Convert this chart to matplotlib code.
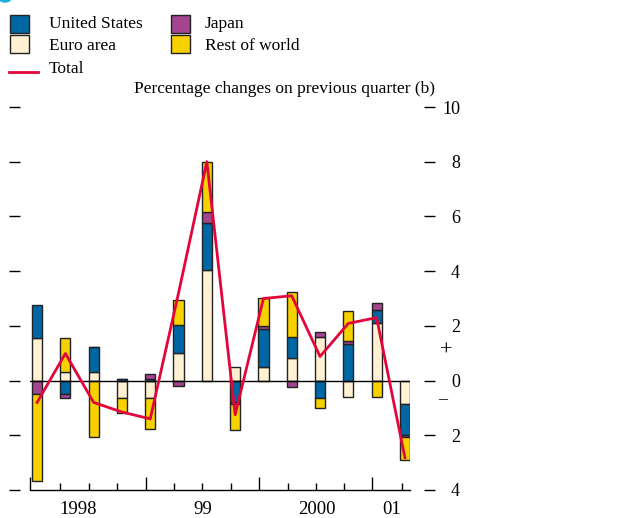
import numpy as np
import matplotlib
matplotlib.use("Agg")
import matplotlib.pyplot as plt
from matplotlib.patches import Rectangle, Circle
from matplotlib.lines import Line2D

# quarterly contributions, percentage points
us = [1.21, -0.48, 0.88, 0.05, 0.05, 1.03, 1.72, -0.77, 1.39, 0.77, -0.62, 1.32, 0.48, -1.14]
euro = [1.54, 0.33, 0.33, -0.62, -0.62, 0.99, 4.03, 0.48, 0.48, 0.84, 1.61, -0.59, 2.09, -0.84]
japan = [-0.48, -0.15, 0.0, 0.0, 0.20, -0.20, 0.40, -0.10, 0.12, -0.22, 0.17, 0.12, 0.26, -0.08]
rest = [-3.19, 1.21, -2.05, -0.55, -1.14, 0.92, 1.83, -0.95, 1.03, 1.61, -0.37, 1.10, -0.59, -0.84]
total = [-0.8, 0.99, -0.8, -1.15, -1.4, 3.2, 8.0, -1.25, 3.0, 3.1, 0.88, 2.09, 2.3, -2.82]

year_labels = ["1998", "99", "2000", "01"]
year_pos = [1.45, 5.86, 9.89, 12.54]
ytick_vals = [10, 8, 6, 4, 2, 0, -2, -4]
ytick_text = ["10", "8", "6", "4", "2", "0", "2", "4"]

C_US = "#0067a5"
C_EURO = "#fff1d2"
C_JAPAN = "#a4468f"
C_REST = "#f7d100"
C_TOTAL = "#e2063c"

PX = 72 / 100  # points per pixel

plt.rcParams["font.family"] = ["Liberation Serif", "DejaVu Serif"]

fig = plt.figure(figsize=(6.17, 5.18), dpi=100)
ax = fig.add_axes([30 / 617, 1 - 490 / 518, 380 / 617, 383 / 518])

x = np.arange(len(total))
pos = np.zeros(len(x))
neg = np.zeros(len(x))
for vals, col in [(euro, C_EURO), (us, C_US), (japan, C_JAPAN), (rest, C_REST)]:
    v = np.array(vals)
    bottom = np.where(v >= 0, pos, neg)
    ax.bar(x, v, 0.36, bottom=bottom, color=col, edgecolor="#222222", linewidth=1.0, zorder=2)
    pos = pos + np.where(v >= 0, v, 0)
    neg = neg + np.where(v < 0, v, 0)

ax.axhline(0, color="black", lw=1.0, zorder=3)
ax.plot(x, total, color=C_TOTAL, lw=2.0, zorder=4)

ax.set_xlim(-0.25, 13.18)
ax.set_ylim(-4, 10)

ax.spines["top"].set_visible(False)
ax.spines["bottom"].set_linewidth(1.0)
ax.spines["left"].set_position(("outward", 10 * PX))
ax.spines["left"].set_visible(False)
ax.spines["right"].set_position(("outward", 14 * PX))
ax.spines["right"].set_visible(False)

# quarter ticks along the bottom
ax.set_xticks([-0.25, 3.84, 7.84, 11.84])
ax.set_xticks([0.82, 1.84, 2.84, 4.84, 5.84, 6.86, 8.86, 9.86, 10.85, 12.9], minor=True)
ax.tick_params(axis="x", which="major", direction="in", length=13 * PX, width=1, labelbottom=False)
ax.tick_params(axis="x", which="minor", direction="in", length=7 * PX, width=1)
for lab, p in zip(year_labels, year_pos):
    ax.text(p, -0.05, lab, transform=ax.get_xaxis_transform(), ha="center", va="center", fontsize=13.5)

ax.set_yticks(ytick_vals)
ax.set_yticklabels(ytick_text)
ax.tick_params(axis="y", which="both", left=True, right=True, labelleft=False, labelright=True,
               direction="out", length=11 * PX, width=1, pad=25 * PX, labelsize=13)
for t in ax.get_yticklabels():
    t.set_horizontalalignment("right")

fig.text(443 / 617, 1 - 400 / 518, "\u2013", fontsize=13, ha="center", va="center")
fig.text(446 / 617, 1 - 351 / 518, "+", fontsize=16, ha="center", va="center")

# legend drawn by hand
def box(x0, y0, col):
    fig.patches.append(Rectangle((x0 / 617, 1 - (y0 + 18) / 518), 19 / 617, 18 / 518,
                                 transform=fig.transFigure, facecolor=col,
                                 edgecolor="#222222", lw=1.0))

box(10, 15, C_US)
box(10, 35, C_EURO)
box(171, 15, C_JAPAN)
box(171, 35, C_REST)
fig.lines.append(Line2D([9 / 617, 38 / 617], [1 - 72 / 518, 1 - 72 / 518],
                        transform=fig.transFigure, color=C_TOTAL, lw=2.0))
for tx, px, py in [("United States", 49, 24), ("Euro area", 49, 46), ("Japan", 205, 24),
                   ("Rest of world", 205, 46), ("Total", 49, 69)]:
    fig.text(px / 617, 1 - py / 518, tx, fontsize=12.5, ha="left", va="center")
fig.text(134 / 617, 1 - 89 / 518, "Percentage changes on previous quarter (b)",
         fontsize=12.5, ha="left", va="center")

fig.patches.append(Circle((5 / 617, 1 + 4 / 518), 8 / 617, transform=fig.transFigure,
                          facecolor="#1ab0d8", edgecolor="none"))

fig.savefig("out.png", dpi=100)
